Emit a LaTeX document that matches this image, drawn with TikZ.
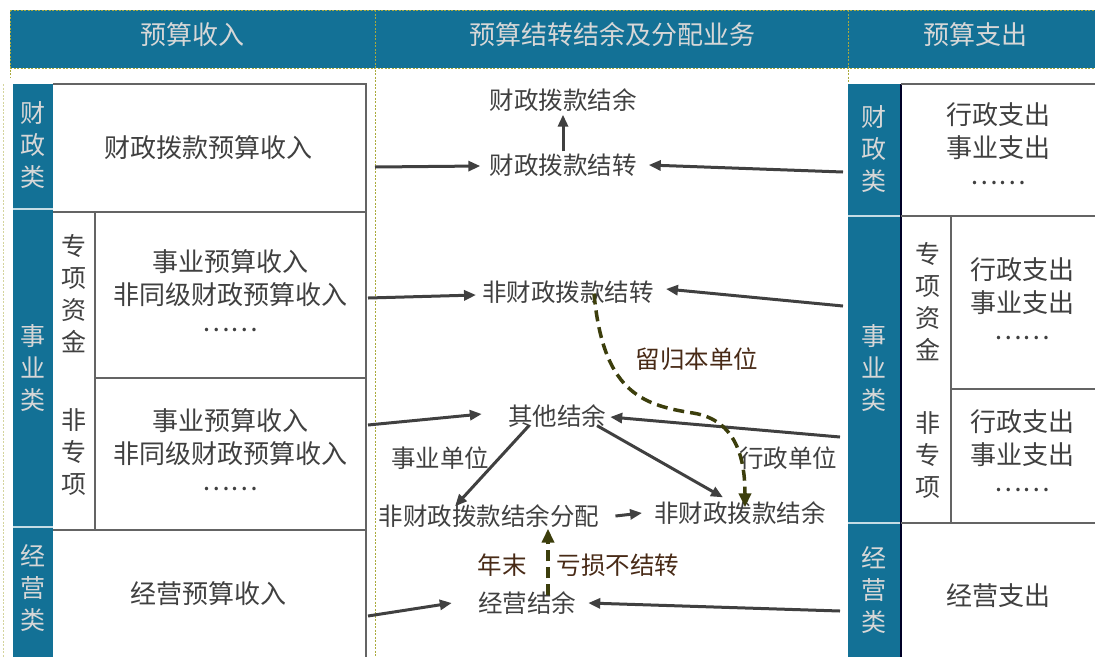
\documentclass[tikz,border=0pt]{standalone}
\usepackage{fontspec}
\setmainfont{Noto Sans CJK SC}
\usetikzlibrary{arrows.meta}
\definecolor{hblue}{RGB}{19,113,150}
\definecolor{htext}{RGB}{215,215,215}
\definecolor{tgray}{RGB}{64,64,64}
\definecolor{lgray}{RGB}{100,100,100}
\definecolor{olive}{RGB}{60,62,12}
\definecolor{brownt}{RGB}{72,42,22}
\definecolor{dashy}{RGB}{170,170,60}
\tikzset{
  txt/.style={text=tgray,inner sep=0pt,font=\fontsize{26}{33}\selectfont,align=center},
  ctxt/.style={text=tgray,inner sep=0pt,font=\fontsize{24.5}{30}\selectfont},
  btxt/.style={text=brownt,inner sep=0pt,font=\fontsize{24.5}{30}\selectfont},
  vlab/.style={text=htext,inner sep=0pt,font=\fontsize{25}{32}\selectfont,align=center},
  slab/.style={text=tgray,inner sep=0pt,font=\fontsize{25}{32}\selectfont,align=center},
  htxt/.style={text=htext,inner sep=0pt,font=\fontsize{26}{30}\selectfont},
  arr/.style={draw=tgray,line width=3pt,-{Triangle[length=12pt,width=10pt]}},
  darr/.style={draw=olive,line width=3.5pt,dash pattern=on 11pt off 6pt,-{Triangle[length=14pt,width=12pt]}},
  cell/.style={draw=lgray,line width=1.5pt},
  sep/.style={draw=dashy,line width=1pt,dash pattern=on 2pt off 1.5pt},
}
\begin{document}
\begin{tikzpicture}[x=1pt,y=-1pt]
\useasboundingbox (0,0) rectangle (1095,657);
% header
\fill[hblue] (10,10) rectangle (1095,68);
\draw[sep] (10,10) -- (1095,10);
\draw[sep] (10,68) -- (1095,68);
\draw[sep] (10,10) -- (10,78);
\draw[sep] (375,10) -- (375,657);
\draw[sep] (848,10) -- (848,657);
\draw[sep,draw=dashy!50] (3,84) -- (3,657);
\node[htxt] (h1) at (192,35) {预算收入};
\node[htxt] (h2) at (612,35) {预算结转结余及分配业务};
\node[htxt] (h3) at (975,35) {预算支出};
% left table
\fill[hblue] (13,84) rectangle (53,657);
\draw[white!75!hblue,line width=1.2pt] (13,209) -- (53,209) (13,527) -- (53,527);
\draw[cell] (53,84) -- (366,84) -- (366,657);
\draw[cell] (53,212) -- (366,212);
\draw[cell] (95,378) -- (366,378);
\draw[cell] (53,530) -- (366,530);
\draw[cell] (95,212) -- (95,530);
\node[vlab] (lc1) at (33,145) {财\\政\\类};
\node[vlab] (lc2) at (33,368) {事\\业\\类};
\node[vlab] (lc3) at (33,588) {经\\营\\类};
\node[slab] (ls1) at (74,294) {专\\项\\资\\金};
\node[slab] (ls2) at (74,452) {非\\专\\项};
\node[txt] (L1) at (208,148) {财政拨款预算收入};
\node[txt] (L2) at (230,278) {事业预算收入\\非同级财政预算收入};
\node[txt] (L2d) at (230,330) {……};
\node[txt] (L3) at (230,437) {事业预算收入\\非同级财政预算收入};
\node[txt] (L3d) at (230,489) {……};
\node[txt] (L4) at (208,594) {经营预算收入};
% right table
\fill[hblue] (848,84) rectangle (900,657);
\draw[white!75!hblue,line width=1.2pt] (848,216) -- (900,216) (848,523) -- (900,523);
\draw[black!85!blue,line width=2pt] (901,84) -- (901,657);
\draw[cell] (901,84) -- (1095,84);
\draw[cell] (901,216) -- (1095,216);
\draw[cell] (951,389) -- (1095,389);
\draw[cell] (901,523) -- (1095,523);
\draw[cell] (951,216) -- (951,523);
\node[vlab] (rc1) at (874,149) {财\\政\\类};
\node[vlab] (rc2) at (874,368) {事\\业\\类};
\node[vlab] (rc3) at (874,590) {经\\营\\类};
\node[slab] (rs1) at (928,302) {专\\项\\资\\金};
\node[slab] (rs2) at (928,455) {非\\专\\项};
\node[txt] (R1) at (998,131) {行政支出\\事业支出};
\node[txt] (R1d) at (998,183) {……};
\node[txt] (R2) at (1022,286) {行政支出\\事业支出};
\node[txt] (R2d) at (1022,338) {……};
\node[txt] (R3) at (1022,438) {行政支出\\事业支出};
\node[txt] (R3d) at (1022,490) {……};
\node[txt] (R4) at (998,596) {经营支出};
% centre nodes
\node[ctxt] (cbjy) at (563,100) {财政拨款结余};
\node[ctxt] (cbjz) at (563,165) {财政拨款结转};
\node[ctxt] (fjz) at (568,292) {非财政拨款结转};
\node[btxt] (lgb) at (697,359) {留归本单位};
\node[ctxt] (qt) at (557,416) {其他结余};
\node[ctxt] (sydw) at (440,458) {事业单位};
\node[ctxt] (xzdw) at (788,458) {行政单位};
\node[ctxt] (fp) at (489,516) {非财政拨款结余分配};
\node[ctxt] (fjy) at (740,513) {非财政拨款结余};
\node[btxt] (nm) at (502,565) {年末};
\node[btxt] (ks) at (618,565) {亏损不结转};
\node[ctxt] (jy) at (527,603) {经营结余};
% connector ends
\coordinate (a1) at (375,167);
\coordinate (a2) at (843,172);
\coordinate (a3) at (368,298);
\coordinate (a4) at (843,306);
\coordinate (a5) at (368,425);
\coordinate (a6) at (840,437);
\coordinate (a7) at (368,616);
\coordinate (a8) at (840,611);
% arrows
\draw[arr] (a1) -- ([xshift=-9pt,yshift=-1pt]cbjz.west);
\draw[arr] ([yshift=2pt]cbjz.north) -- ([yshift=-3pt]cbjy.south);
\draw[arr] (a2) -- ([xshift=12pt]cbjz.east);
\draw[arr] (a3) -- ([xshift=-6pt,yshift=-3pt]fjz.west);
\draw[arr] (a4) -- ([xshift=12pt,yshift=3pt]fjz.east);
\draw[arr] (a5) -- ([xshift=-26pt,yshift=2pt]qt.west);
\draw[arr] (a6) -- ([xshift=4pt,yshift=-1pt]qt.east);
\draw[arr] ([xshift=-28pt,yshift=2pt]qt.south) -- ([xshift=-34pt,yshift=-2pt]fp.north);
\draw[arr] ([xshift=40pt,yshift=2pt]qt.south) -- ([xshift=-17pt,yshift=4pt]fjy.north);
\draw[arr] ([xshift=16pt]fp.east) -- ([xshift=-12pt]fjy.west);
\draw[arr] (a7) -- ([xshift=-26pt]jy.west);
\draw[arr] (a8) -- ([xshift=12pt]jy.east);
\draw[darr] ([xshift=26pt,yshift=10pt]fjz.south) .. controls (603,390) and (640,405) .. (693,413) .. controls (737,420) and (745,460) .. ([xshift=5pt,yshift=-6pt]fjy.north);
\draw[darr] ([xshift=21pt,yshift=-4pt]jy.north) -- ([xshift=59pt,yshift=-1pt]fp.south);
\end{tikzpicture}
\end{document}
